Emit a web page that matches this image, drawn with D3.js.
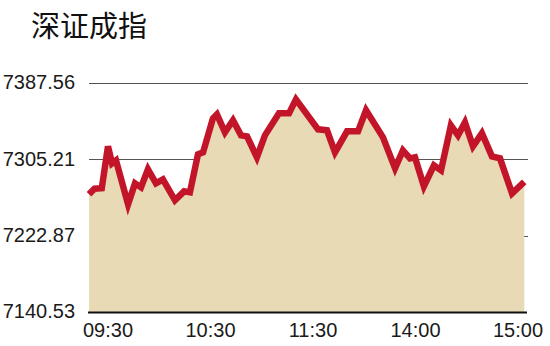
<!DOCTYPE html>
<html>
<head>
<meta charset="utf-8">
<style>
  body { margin: 0; background: #fff; }
  .title { font: 400 29px "Noto Sans CJK SC", sans-serif; fill: #111; }
  .ylab, .xlab { font: 20px "Liberation Sans", Arial, sans-serif; fill: #1a1a1a; }
</style>
<script src="https://d3js.org/d3.v7.min.js"></script>
</head>
<body>
<svg width="550" height="346"></svg>
<script>
// trading minutes since 09:30 (lunch break removed), index value
var minutes = [0, 3, 7, 10.4, 12.6, 14.8, 21.4, 25.2, 28.5, 32.3, 36.7, 40.5, 47.1, 52.1, 55.3,
  59.7, 62.5, 67.9, 70.1, 74.5, 78.9, 83.3, 86.6, 92, 96.4, 104.1, 109.6, 113.4, 125.5, 130.4,
  134.8, 141.4, 147.4, 151.8, 161.1, 167.7, 172, 175.9, 178.6, 183.5, 189, 192.9, 198.3, 202.2,
  206, 210.4, 215.3, 220.8, 225.2, 231.8, 238.5];
var values = [7267.5, 7273.5, 7274.0, 7319.2, 7300.9, 7304.1, 7256.7, 7279.3, 7275.0, 7294.4,
  7279.3, 7283.6, 7261.0, 7270.7, 7269.6, 7310.6, 7312.8, 7349.4, 7353.7, 7334.3, 7347.3,
  7331.1, 7330.0, 7307.4, 7331.1, 7354.8, 7354.8, 7369.9, 7337.6, 7336.5, 7312.8, 7335.4,
  7335.4, 7358.1, 7328.9, 7295.5, 7314.9, 7306.3, 7307.4, 7276.1, 7298.7, 7293.3, 7341.9,
  7331.1, 7345.1, 7319.2, 7333.3, 7308.4, 7306.3, 7268.5, 7281.0];
var yTicks = [7140.53, 7222.87, 7305.21, 7387.56];
var xLabels = ["09:30", "10:30", "11:30", "14:00", "15:00"];
var title = "深证成指";

var svg = d3.select("svg");
var plotL = 89, plotR = 527, plotT = 83, plotB = 312;

var x = d3.scaleLinear().domain([0, 240]).range([plotL, plotR]);
var y = d3.scaleLinear().domain([yTicks[0], yTicks[yTicks.length - 1]]).range([plotB, plotT]);
var xl = d3.scalePoint().domain(xLabels).range([108, 518]);

var data = minutes.map(function (m, i) { return { m: m, v: values[i] }; });

svg.append("text").attr("class", "title").attr("x", 31).attr("y", 37).text(title);

// grid
svg.selectAll(".grid").data(yTicks.slice(1)).enter().append("line")
  .attr("x1", plotL).attr("x2", plotR + 1)
  .attr("y1", function (d) { return Math.round(y(d)) + 0.5; })
  .attr("y2", function (d) { return Math.round(y(d)) + 0.5; })
  .attr("stroke", "#555").attr("stroke-width", 1);

svg.selectAll(".ylab").data(yTicks).enter().append("text")
  .attr("class", "ylab")
  .attr("x", 75).attr("y", function (d) { return y(d); })
  .attr("dy", "0.32em").attr("text-anchor", "end")
  .text(function (d) { return d.toFixed(2); });

var area = d3.area()
  .x(function (d) { return x(d.m); })
  .y0(plotB).y1(function (d) { return y(d.v); });
var line = d3.line()
  .x(function (d) { return x(d.m); })
  .y(function (d) { return y(d.v); });

svg.append("path").datum(data).attr("d", area).attr("fill", "#e9dab6");
svg.append("path").datum(data).attr("d", line)
  .attr("fill", "none").attr("stroke", "#c3152a").attr("stroke-width", 6.5)
  .attr("stroke-linejoin", "miter");

// baseline
svg.append("line").attr("x1", plotL - 1).attr("x2", plotR).attr("y1", plotB + 0.5).attr("y2", plotB + 0.5)
  .attr("stroke", "#111").attr("stroke-width", 2);

svg.selectAll(".xlab").data(xLabels).enter().append("text")
  .attr("class", "xlab")
  .attr("x", function (d) { return xl(d); }).attr("y", 337)
  .attr("text-anchor", "middle")
  .text(function (d) { return d; });
</script>
</body>
</html>
